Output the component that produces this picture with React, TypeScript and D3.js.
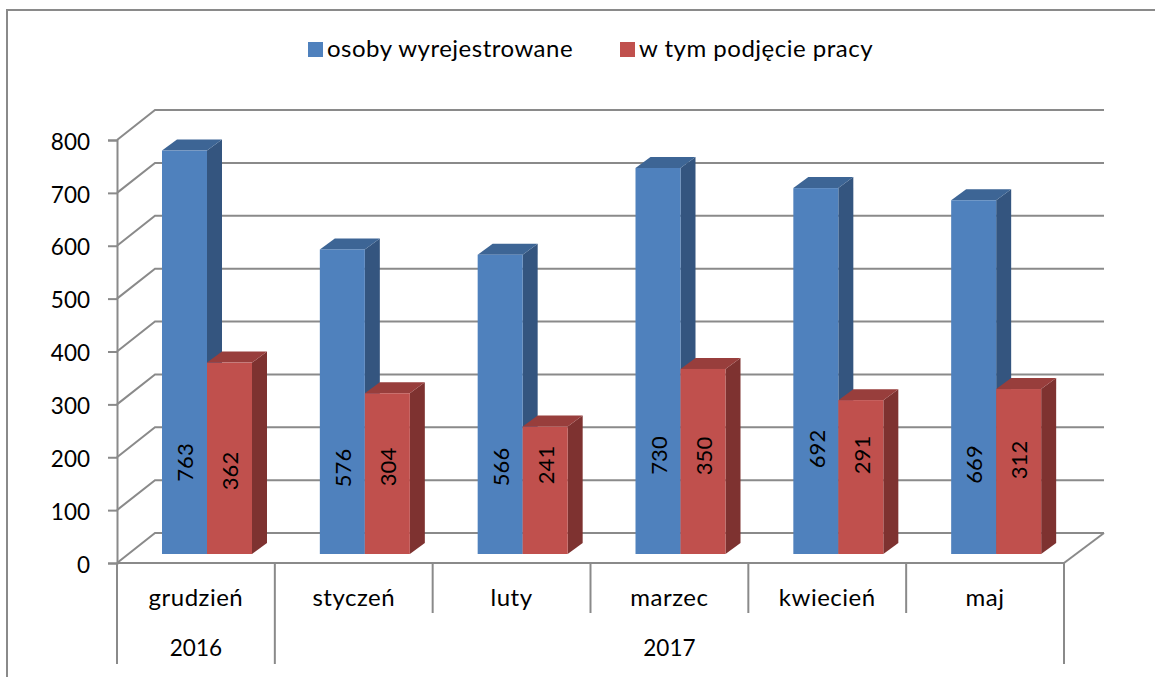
import React, { useEffect, useRef } from 'react';
import * as d3 from 'd3';

const months = ['grudzień', 'styczeń', 'luty', 'marzec', 'kwiecień', 'maj'];
const years = [
  { label: '2016', from: 0, to: 1 },
  { label: '2017', from: 1, to: 6 },
];
const wyrejestrowane = [763, 576, 566, 730, 692, 669];
const podjecie = [362, 304, 241, 350, 291, 312];
const yTicks = [0, 100, 200, 300, 400, 500, 600, 700, 800];
const seriesNames = ['osoby wyrejestrowane', 'w tym podjęcie pracy'];

const FONT = 'Lato, sans-serif';
const GREY = '#8a8a8a';
const DIGIT_SIZE = 22.5;
const WORD_SIZE = 24;

export default function App() {
  const ref = useRef<SVGSVGElement>(null);

  useEffect(() => {
    const svg = d3.select(ref.current);
    svg.selectAll('*').remove();

    // plot geometry
    const left = 117, right = 1064, top = 140, bottom = 563;
    const wallDx = 38, wallDy = 30; // offset of the back wall
    const barDx = 15, barDy = 11; // depth of the bars
    const floorShift = 9; // bars stand a little behind the front edge

    const x = d3.scaleBand<number>().domain(d3.range(months.length)).range([left, right]);
    const y = d3.scaleLinear().domain([0, 800]).range([bottom, top]);
    const barW = 45;
    const barGap = 45;

    // outer frame, cut by the image on the right and at the bottom
    svg.append('path')
      .attr('d', 'M7,677V10H1155')
      .attr('fill', 'none')
      .attr('stroke', GREY)
      .attr('stroke-width', 2);

    // grid: diagonal on the side wall and line on the back wall
    const grid = svg.append('g').attr('fill', 'none').attr('stroke', GREY).attr('stroke-width', 2);
    yTicks.forEach(t => {
      grid.append('path').attr('d', `M${left},${y(t)}l${wallDx},${-wallDy}H${right + wallDx + 2}`);
    });
    grid.append('path').attr('d', `M${right},${bottom}l${wallDx + 2},${-wallDy}`);

    // y axis
    const yAxis = svg.append('g')
      .attr('transform', `translate(${left},0)`)
      .call(d3.axisLeft(y).tickValues(yTicks).tickSize(9).tickPadding(18));
    yAxis.select('.domain').attr('stroke', GREY).attr('stroke-width', 2);
    yAxis.selectAll('.tick line').attr('stroke', GREY).attr('stroke-width', 2);
    yAxis.selectAll('.tick text')
      .attr('font-family', FONT)
      .attr('font-size', DIGIT_SIZE)
      .attr('dy', '0.41em')
      .attr('fill', '#000');

    // bars, back to front within each month
    const drawBar = (g: any, bx: number, v: number, front: string, topC: string, side: string) => {
      const by = y(v) - floorShift;
      const b0 = bottom - floorShift;
      g.append('path')
        .attr('d', `M${bx + barW},${by}l${barDx},${-barDy}V${b0 - barDy}l${-barDx},${barDy}Z`)
        .attr('fill', side);
      g.append('path')
        .attr('d', `M${bx},${by}l${barDx},${-barDy}h${barW}l${-barDx},${barDy}Z`)
        .attr('fill', topC);
      g.append('rect')
        .attr('x', bx)
        .attr('y', by)
        .attr('width', barW)
        .attr('height', b0 - by)
        .attr('fill', front);
    };

    const barsG = svg.append('g');
    months.forEach((m, i) => {
      const bx = x(i)! + barGap;
      drawBar(barsG, bx, wyrejestrowane[i], '#4f81bd', '#3d6595', '#34557f');
      drawBar(barsG, bx + barW, podjecie[i], '#c0504d', '#983e3c', '#7e3230');
    });

    // value labels, rotated. Excel left them at slightly different heights
    const labelMidY = [
      [462.5, 468, 467, 455.5, 449, 464.5],
      [471, 467, 465, 456, 455, 460],
    ];
    months.forEach((m, i) => {
      const bx = x(i)! + barGap;
      [wyrejestrowane[i], podjecie[i]].forEach((v, k) => {
        svg.append('text')
          .attr('transform', `translate(${bx + barW * k + barW / 2 + 1},${labelMidY[k][i]}) rotate(-90)`)
          .attr('text-anchor', 'middle')
          .attr('dy', '0.35em')
          .attr('font-family', FONT)
          .attr('font-size', 22)
          .attr('fill', '#000')
          .text(v);
      });
    });

    // two-level category axis
    const catG = svg.append('g');
    catG.append('line')
      .attr('x1', left).attr('x2', right).attr('y1', bottom).attr('y2', bottom)
      .attr('stroke', GREY).attr('stroke-width', 2);
    d3.range(months.length + 1).forEach(i => {
      const px = left + x.step() * i;
      const isYearEdge = years.some(r => r.from === i || r.to === i);
      catG.append('line')
        .attr('x1', px).attr('x2', px)
        .attr('y1', bottom).attr('y2', isYearEdge ? 664 : 613)
        .attr('stroke', GREY).attr('stroke-width', 2);
    });
    months.forEach((m, i) => {
      catG.append('text')
        .attr('x', x(i)! + x.step() / 2)
        .attr('y', 606)
        .attr('text-anchor', 'middle')
        .attr('font-family', FONT)
        .attr('font-size', WORD_SIZE)
        .attr('letter-spacing', 0.5)
        .text(m);
    });
    years.forEach(r => {
      catG.append('text')
        .attr('x', left + x.step() * (r.from + r.to) / 2)
        .attr('y', 656)
        .attr('text-anchor', 'middle')
        .attr('font-family', FONT)
        .attr('font-size', DIGIT_SIZE)
        .text(r.label);
    });

    // legend
    const legendX = [308, 620];
    const legendC = ['#4f81bd', '#c0504d'];
    seriesNames.forEach((s, i) => {
      svg.append('rect')
        .attr('x', legendX[i]).attr('y', 42)
        .attr('width', 15).attr('height', 15)
        .attr('fill', legendC[i]);
      svg.append('text')
        .attr('x', legendX[i] + 19)
        .attr('y', 57)
        .attr('font-family', FONT)
        .attr('font-size', WORD_SIZE)
        .attr('letter-spacing', 0.5)
        .text(s);
    });
  }, []);

  return (
    <svg
      ref={ref}
      width={1155}
      height={677}
      style={{ position: 'absolute', left: 0, top: 0, background: '#fff' }}
    />
  );
}
